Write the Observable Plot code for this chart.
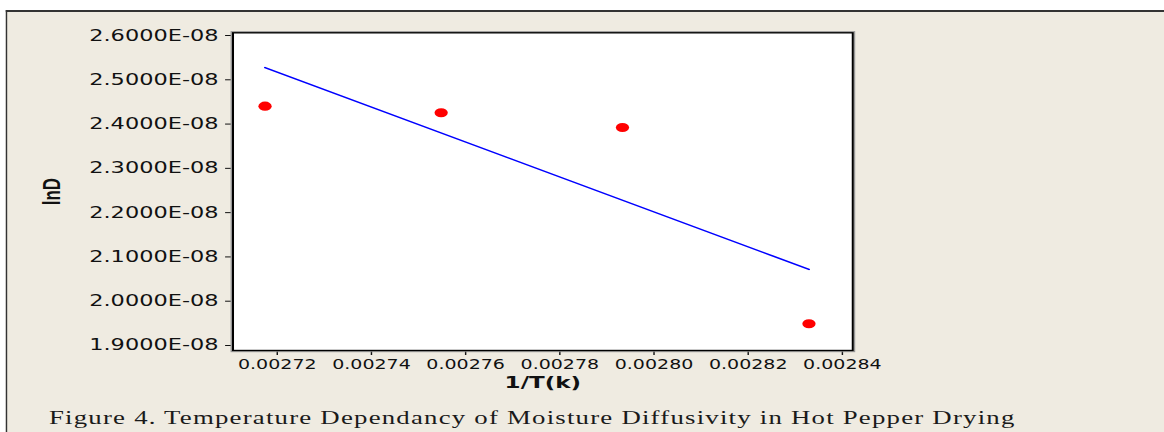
<!DOCTYPE html>
<html>
<head>
<meta charset="utf-8">
<script src="https://cdn.jsdelivr.net/npm/d3@7"></script>
<script src="https://cdn.jsdelivr.net/npm/@observablehq/plot@0.6"></script>
<style>
  html, body { margin: 0; padding: 0; background: #ffffff; overflow: hidden; width: 1164px; height: 432px; }
  #fig { position: absolute; left: 0; top: 0; width: 808.33px; height: 432px; transform: scaleX(1.44); transform-origin: 0 0; }
  #panel { position: absolute; left: 4.2px; top: 10px; width: 820px; height: 440px; background: #EFEBE1; border-top: 2px solid #333; border-left: 1.6px solid #333; }
  #chart { position: absolute; left: 0; top: 0; }
  #cap { position: absolute; left: 34px; top: 407.5px; font-family: "Liberation Serif", "Times New Roman", serif; font-size: 18.6px; line-height: 20px; color: #1a1a1a; letter-spacing: 0.85px; white-space: nowrap; }
</style>
</head>
<body>
<div id="fig">
  <div id="panel"></div>
  <div id="chart"></div>
  <div id="cap">Figure 4. Temperature Dependancy of Moisture Diffusivity in Hot Pepper Drying</div>
</div>
<script>
// Data
const invT = [0.0027174, 0.0027548, 0.0027933, 0.0028329];   // 1/T(k)
const lnD  = [2.4404e-8, 2.4255e-8, 2.3923e-8, 1.9491e-8];   // lnD
const xTicks = [0.00272, 0.00274, 0.00276, 0.00278, 0.00280, 0.00282, 0.00284];
const yTicks = [1.9e-8, 2.0e-8, 2.1e-8, 2.2e-8, 2.3e-8, 2.4e-8, 2.5e-8, 2.6e-8];
const xLabel = "1/T(k)";
const yLabel = "lnD";

const data = invT.map((x, i) => ({x, y: lnD[i]}));

const W = 808.33, H = 400;
const mL = 161.3, mR = W - 591.7, mT = 32.3, mB = H - 350;

const chart = Plot.plot({
  width: W,
  height: H,
  marginLeft: mL,
  marginRight: mR,
  marginTop: mT,
  marginBottom: mB,
  style: { fontFamily: "DejaVu Sans, Verdana, sans-serif", fontSize: "16px", background: "transparent", color: "#111", overflow: "visible" },
  x: { domain: [0.0027106, 0.0028422] },
  y: { domain: [1.8887e-8, 2.6061e-8] },
  marks: [
    Plot.frame({ fill: "white" }),
    Plot.axisY({ ticks: yTicks, tickSize: 5, tickPadding: 5, tickFormat: d => (d * 1e8).toFixed(4) + "E-08", label: null, fontSize: 15.6 }),
    Plot.axisX({ ticks: xTicks, tickSize: 5, tickPadding: 4, tickFormat: d => d.toFixed(5), label: null, fontSize: 13.2 }),
    Plot.linearRegressionY(data, { x: "x", y: "y", ci: 0, stroke: "#0000FF", strokeWidth: 1.5 }),
    Plot.dot(data, { x: "x", y: "y", r: 4.6, fill: "#FF0000", stroke: "none" }),
    Plot.frame({ stroke: "#999", strokeWidth: 1, inset: -1.2 }),
    Plot.frame({ stroke: "#000", strokeWidth: 1.4 }),
    Plot.text([xLabel], { frameAnchor: "bottom", text: d => d, dy: 32.5, lineAnchor: "middle", fontWeight: "bold", fontSize: 16, fontFamily: "DejaVu Sans, Verdana, sans-serif", letterSpacing: "0.8px" }),
    Plot.text([yLabel], { frameAnchor: "left", text: d => d, dx: -125.7, rotate: -90, lineAnchor: "middle", textAnchor: "middle", fontWeight: "bold", fontSize: 17, fontFamily: "Liberation Sans Narrow, Liberation Sans, Arial Narrow, sans-serif" })
  ]
});
document.getElementById("chart").appendChild(chart);
</script>
</body>
</html>
